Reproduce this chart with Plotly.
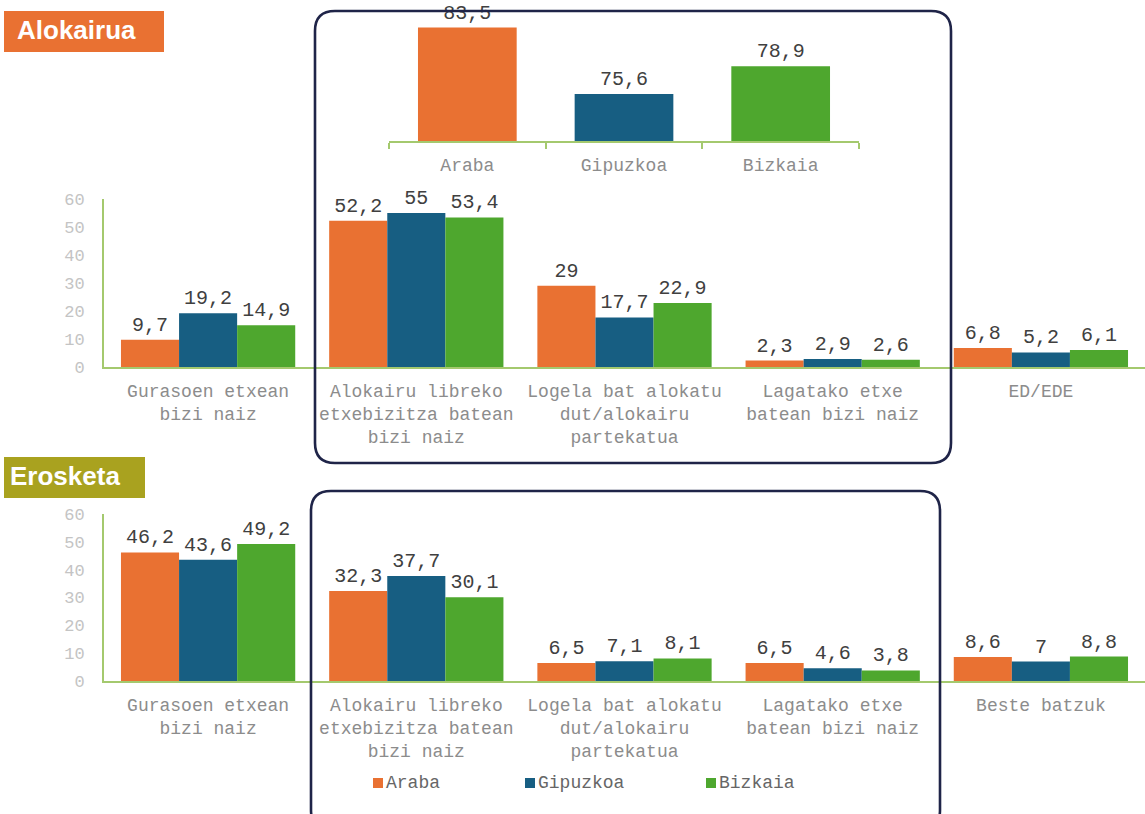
import plotly.graph_objects as go

# ---- data ----
regions = ["Araba", "Gipuzkoa", "Bizkaia"]
region_colors = ["#E97132", "#175E82", "#4EA72E"]

cats_rent = ["Gurasoen etxean<br>bizi naiz",
             "Alokairu libreko<br>etxebizitza batean<br>bizi naiz",
             "Logela bat alokatu<br>dut/alokairu<br>partekatua",
             "Lagatako etxe<br>batean bizi naiz",
             "ED/EDE"]
cats_buy = ["Gurasoen etxean<br>bizi naiz",
            "Alokairu libreko<br>etxebizitza batean<br>bizi naiz",
            "Logela bat alokatu<br>dut/alokairu<br>partekatua",
            "Lagatako etxe<br>batean bizi naiz",
            "Beste batzuk"]

rent_araba = [9.7, 52.2, 29, 2.3, 6.8]
rent_gipuzkoa = [19.2, 55, 17.7, 2.9, 5.2]
rent_bizkaia = [14.9, 53.4, 22.9, 2.6, 6.1]

buy_araba = [46.2, 32.3, 6.5, 6.5, 8.6]
buy_gipuzkoa = [43.6, 37.7, 7.1, 4.6, 7]
buy_bizkaia = [49.2, 30.1, 8.1, 3.8, 8.8]

# total rental share per territory
rent_total = [83.5, 75.6, 78.9]

y_ticks = [0, 10, 20, 30, 40, 50, 60]

# ---- styling ----
W, H = 1145, 814
MONO = "Liberation Mono, Courier New, monospace"
BADGE_FONT = "Liberation Sans Narrow, Arial Narrow, Liberation Sans, Arial"
AXIS_GREEN = "#A4C96E"
BOX_NAVY = "#1F2448"
LABEL_DARK = "#404040"
CAT_GRAY = "#8C8C8C"
TICK_GRAY = "#C4C4C4"


def px(x):
    return x / W


def py(y):
    return 1 - y / H


def fmt(v):
    s = ("%g" % v)
    return s.replace(".", ",")


fig = go.Figure()


def add_group(values, xa, ya):
    for name, vals, col in zip(regions, values, region_colors):
        fig.add_trace(go.Bar(
            x=cats_rent if xa == "x" else cats_buy,
            y=vals, name=name, marker_color=col,
            marker_line_width=0,
            text=[fmt(v) for v in vals], textposition="outside",
            textfont=dict(family=MONO, size=20, color=LABEL_DARK),
            constraintext="none", cliponaxis=False,
            xaxis=xa, yaxis=ya, showlegend=False))


add_group([rent_araba, rent_gipuzkoa, rent_bizkaia], "x", "y")
add_group([buy_araba, buy_gipuzkoa, buy_bizkaia], "x2", "y2")

fig.add_trace(go.Bar(
    x=regions, y=rent_total, marker_color=region_colors, marker_line_width=0,
    text=[fmt(v) for v in rent_total], textposition="outside",
    textfont=dict(family=MONO, size=20, color=LABEL_DARK),
    constraintext="none", cliponaxis=False, width=0.63,
    xaxis="x3", yaxis="y3", showlegend=False))

main_x = dict(showline=True, linecolor=AXIS_GREEN, linewidth=2,
              showgrid=False, zeroline=False, ticks="", automargin=False,
              tickfont=dict(family=MONO, size=18, color=CAT_GRAY),
              ticklabelstandoff=6, fixedrange=True)
main_y = dict(range=[0, 60], tickvals=y_ticks, showline=True,
              linecolor=AXIS_GREEN, linewidth=2, showgrid=False,
              zeroline=False, ticks="", automargin=False,
              tickfont=dict(family=MONO, size=17, color=TICK_GRAY),
              ticklabelstandoff=14, fixedrange=True)

fig.update_layout(
    width=W, height=H, autosize=False,
    margin=dict(l=0, r=0, t=0, b=0, pad=0, autoexpand=False),
    paper_bgcolor="white", plot_bgcolor="white",
    barmode="group", bargap=0.163, bargroupgap=0,
    xaxis=dict(domain=[px(104), 1], anchor="y", **main_x),
    yaxis=dict(domain=[py(367), py(199)], anchor="x", **main_y),
    xaxis2=dict(domain=[px(104), 1], anchor="y2", **main_x),
    yaxis2=dict(domain=[py(681), py(514)], anchor="x2", **main_y),
    xaxis3=dict(domain=[px(389), px(859)], anchor="y3", showline=True,
                linecolor=AXIS_GREEN, linewidth=2, showgrid=False,
                ticks="outside", tickson="boundaries", ticklen=6,
                tickcolor=AXIS_GREEN, tickwidth=2, automargin=False,
                ticklabelstandoff=6,
                tickfont=dict(family=MONO, size=18, color=CAT_GRAY),
                fixedrange=True),
    yaxis3=dict(domain=[py(141), py(15)], anchor="x3", range=[70, 85],
                visible=False, automargin=False, fixedrange=True),
)

shapes = []


def rounded_box(x0, y0, x1, y1, r):
    path = (f"M {px(x0 + r)},{py(y0)} L {px(x1 - r)},{py(y0)} "
            f"Q {px(x1)},{py(y0)} {px(x1)},{py(y0 + r)} "
            f"L {px(x1)},{py(y1 - r)} "
            f"Q {px(x1)},{py(y1)} {px(x1 - r)},{py(y1)} "
            f"L {px(x0 + r)},{py(y1)} "
            f"Q {px(x0)},{py(y1)} {px(x0)},{py(y1 - r)} "
            f"L {px(x0)},{py(y0 + r)} "
            f"Q {px(x0)},{py(y0)} {px(x0 + r)},{py(y0)} Z")
    return dict(type="path", path=path, xref="paper", yref="paper",
                line=dict(color=BOX_NAVY, width=2.6), layer="above")


shapes.append(rounded_box(315, 11, 951, 463, 20))
shapes.append(rounded_box(311, 491, 940, 830, 20))

# section title badges
shapes.append(dict(type="rect", xref="paper", yref="paper",
                   x0=px(4), x1=px(164), y0=py(52), y1=py(11),
                   fillcolor="#E97132", line_width=0, layer="below"))
shapes.append(dict(type="rect", xref="paper", yref="paper",
                   x0=px(4), x1=px(145), y0=py(498), y1=py(457),
                   fillcolor="#A9A21F", line_width=0, layer="below"))

annotations = [
    dict(text="<b>Alokairua</b>", x=px(15), y=py(30), xref="paper",
         yref="paper", xanchor="left", yanchor="middle", showarrow=False,
         font=dict(family=BADGE_FONT, size=26, color="white")),
    dict(text="<b>Erosketa</b>", x=px(8), y=py(476), xref="paper",
         yref="paper", xanchor="left", yanchor="middle", showarrow=False,
         font=dict(family=BADGE_FONT, size=26, color="white")),
]

# legend: colour swatch plus territory name
legend_x = [373, 525, 706]
for name, col, lx in zip(regions, region_colors, legend_x):
    shapes.append(dict(type="rect", xref="paper", yref="paper",
                       x0=px(lx), x1=px(lx + 10), y0=py(788), y1=py(778),
                       fillcolor=col, line_width=0))
    annotations.append(dict(text=name, x=px(lx + 11), y=py(783),
                            xref="paper", yref="paper", xanchor="left",
                            yanchor="middle", showarrow=False,
                            font=dict(family=MONO, size=18, color="#666666")))

fig.update_layout(shapes=shapes, annotations=annotations)

fig.write_html("out.html")
